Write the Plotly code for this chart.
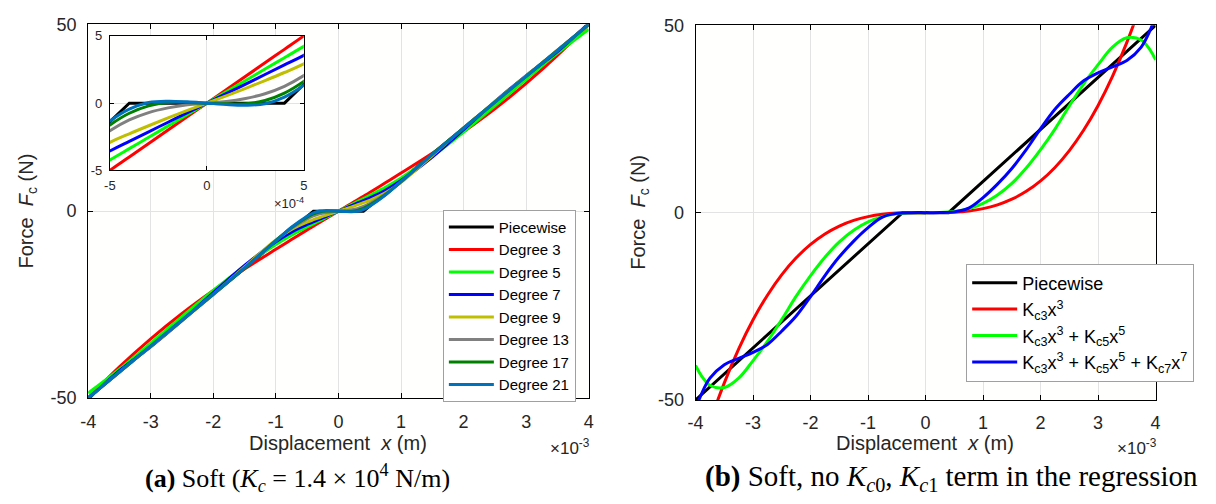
import plotly.graph_objects as go

W, H = 1216, 504

# ---------------- data (x in units of 1e-3 m, force in N) ----------------
XL = [-4, -3.5, -3, -2.5, -2, -1.5, -1, -0.75, -0.5, -0.4, -0.3, -0.2, -0.1, 0,
      0.1, 0.2, 0.3, 0.4, 0.5, 0.75, 1, 1.5, 2, 2.5, 3, 3.5, 4]

PIECE_X = [-4, -0.4, 0.4, 4]
PIECE_F = [-50, 0, 0, 50]

DEG3 = [-50, -41.7, -34.2, -27.4, -21.25, -15.5, -10.2, -7.6, -5.0, -4.0, -3.0, -2.0, -1.0, 0,
        1.0, 2.0, 3.0, 4.0, 5.0, 7.6, 10.2, 15.5, 21.25, 27.4, 34.2, 41.7, 50]
DEG5 = [-48.7, -42.3, -35.3, -28.2, -21.2, -14.7, -8.9, -6.4, -4.23, -3.38, -2.54, -1.69, -0.85, 0,
        0.85, 1.69, 2.54, 3.38, 4.23, 6.4, 8.9, 14.7, 21.2, 28.2, 35.3, 42.3, 48.7]
DEG7 = [-50.3, -42.7, -36.3, -29.3, -21.8, -14.5, -8.2, -5.6, -3.56, -2.84, -2.13, -1.42, -0.71, 0,
        0.71, 1.42, 2.13, 2.84, 3.56, 5.6, 8.2, 14.5, 21.8, 29.3, 36.3, 42.7, 50.3]
DEG9 = [-49.8, -43.1, -36.2, -29.3, -22.3, -14.9, -7.7, -4.9, -2.92, -2.28, -1.68, -1.1, -0.54, 0,
        0.54, 1.1, 1.68, 2.28, 2.92, 4.9, 7.7, 14.9, 22.3, 29.3, 36.2, 43.1, 49.8]
DEG13 = [-50, -43.1, -36.1, -29.1, -22.3, -15.2, -7.8, -4.6, -2.05, -1.25, -0.7, -0.35, -0.12, 0,
         0.12, 0.35, 0.7, 1.25, 2.05, 4.6, 7.8, 15.2, 22.3, 29.1, 36.1, 43.1, 50]
DEG17 = [-50, -43.0, -36.1, -29.2, -22.2, -15.3, -7.9, -4.4, -1.62, -0.75, -0.2, 0.05, 0.05, 0,
         -0.05, -0.05, 0.2, 0.75, 1.62, 4.4, 7.9, 15.3, 22.2, 29.2, 36.1, 43.0, 50]
DEG21 = [-50, -43.0, -36.1, -29.2, -22.2, -15.2, -8.0, -4.3, -1.33, -0.45, 0.05, 0.15, 0.1, 0,
         -0.1, -0.15, -0.05, 0.45, 1.33, 4.3, 8.0, 15.2, 22.2, 29.2, 36.1, 43.0, 50]

XR = [-4, -3.9, -3.75, -3.5, -3.25, -3, -2.75, -2.5, -2.25, -2, -1.75, -1.5, -1.25, -1, -0.75, -0.5, -0.25, 0,
      0.25, 0.5, 0.75, 1, 1.25, 1.5, 1.75, 2, 2.25, 2.5, 2.75, 3, 3.25, 3.5, 3.75, 3.9, 4]

K3 = [-67.8, -62.9, -55.9, -45.45, -36.39, -28.62, -22.05, -16.56, -12.07, -8.48, -5.68, -3.58, -2.07, -1.06, -0.45, -0.13, -0.02, 0,
      0.02, 0.13, 0.45, 1.06, 2.07, 3.58, 5.68, 8.48, 12.07, 16.56, 22.05, 28.62, 36.39, 45.45, 55.9, 62.9, 67.8]
K35 = [-40.8, -43.5, -46.1, -46.7, -44.2, -39.5, -34.4, -28.5, -22.3, -16.8, -11.9, -7.8, -4.7, -2.45, -1.06, -0.32, -0.04, 0,
       0.04, 0.32, 1.06, 2.45, 4.7, 7.8, 11.9, 16.8, 22.3, 28.5, 34.4, 39.5, 44.2, 46.7, 46.1, 43.5, 40.8]
K357 = [-52.5, -48.5, -44.2, -40.6, -38.9, -37.3, -35.2, -31.6, -27.6, -22.4, -16.8, -11.8, -7.6, -4.0, -1.2, -0.2, -0.01, 0,
        0.01, 0.2, 1.2, 4.0, 7.6, 11.8, 16.8, 22.4, 27.6, 31.6, 35.2, 37.3, 38.9, 40.6, 44.2, 48.5, 52.5]

X_TICKS = [-4, -3, -2, -1, 0, 1, 2, 3, 4]
X_TICK_TEXT = ["-4", "-3", "-2", "-1", "0", "1", "2", "3", "4"]
Y_TICKS = [-50, 0, 50]
Y_TICK_TEXT = ["-50", "0", "50"]
INSET_X_TICKS = [-0.5, 0, 0.5]
INSET_X_TEXT = ["-5", "0", "5"]
INSET_Y_TICKS = [-5, 0, 5]
INSET_Y_TEXT = ["-5", "0", "5"]

LEFT_SERIES = [
    ("Piecewise", PIECE_X, PIECE_F, "#000000"),
    ("Degree 3", XL, DEG3, "#ff0000"),
    ("Degree 5", XL, DEG5, "#00ff00"),
    ("Degree 7", XL, DEG7, "#0000ff"),
    ("Degree 9", XL, DEG9, "#bfbf00"),
    ("Degree 13", XL, DEG13, "#808080"),
    ("Degree 17", XL, DEG17, "#008000"),
    ("Degree 21", XL, DEG21, "#0072bd"),
]
RIGHT_SERIES = [
    ("Piecewise", PIECE_X, PIECE_F, "#000000"),
    ("K<sub>c3</sub>x<sup>3</sup>", XR, K3, "#ff0000"),
    ("K<sub>c3</sub>x<sup>3</sup> + K<sub>c5</sub>x<sup>5</sup>", XR, K35, "#00ff00"),
    ("K<sub>c3</sub>x<sup>3</sup> + K<sub>c5</sub>x<sup>5</sup> + K<sub>c7</sub>x<sup>7</sup>", XR, K357, "#0000ff"),
]

SANS = "Liberation Sans, Arial, sans-serif"
SERIF = "Liberation Serif, Times New Roman, serif"
TXT = "#262626"

def px(x):
    return x / W

def py(y):
    return 1 - y / H

fig = go.Figure()

for name, xs, ys, col in LEFT_SERIES:
    shp = "linear" if name == "Piecewise" else "spline"
    fig.add_trace(go.Scatter(x=xs, y=ys, mode="lines", name=name,
                             line=dict(color=col, width=3, shape=shp),
                             xaxis="x", yaxis="y", legend="legend"))
for name, xs, ys, col in LEFT_SERIES:
    shp = "linear" if name == "Piecewise" else "spline"
    fig.add_trace(go.Scatter(x=xs, y=ys, mode="lines", name=name, showlegend=False,
                             line=dict(color=col, width=3, shape=shp),
                             xaxis="x3", yaxis="y3"))
for name, xs, ys, col in RIGHT_SERIES:
    shp = "linear" if name == "Piecewise" else "spline"
    fig.add_trace(go.Scatter(x=xs, y=ys, mode="lines", name=name,
                             line=dict(color=col, width=3, shape=shp),
                             xaxis="x2", yaxis="y2", legend="legend2"))

def axis_style(**kw):
    d = dict(showline=True, linecolor="black", linewidth=1, mirror="ticks",
             ticks="inside", ticklen=5, tickcolor="black", showgrid=True,
             gridcolor="#e3e3e3", gridwidth=1, zeroline=False,
             tickfont=dict(family=SANS, size=18, color=TXT))
    d.update(kw)
    return d

fig.update_layout(
    width=W, height=H, margin=dict(l=0, r=0, t=0, b=0),
    paper_bgcolor="white", plot_bgcolor="#fffffe",
    xaxis=axis_style(domain=[px(81), px(587)], range=[-4, 4], tickvals=X_TICKS,
                     ticktext=X_TICK_TEXT, anchor="y", ticklabelstandoff=7),
    yaxis=axis_style(domain=[py(404), py(15)], range=[-50, 50], tickvals=Y_TICKS,
                     ticktext=Y_TICK_TEXT, anchor="x", ticklabelstandoff=7),
    xaxis2=axis_style(domain=[px(695), px(1160)], range=[-4, 4], tickvals=X_TICKS,
                      ticktext=X_TICK_TEXT, anchor="y2", ticklabelstandoff=7),
    yaxis2=axis_style(domain=[py(406), py(16)], range=[-50, 50], tickvals=Y_TICKS,
                      ticktext=Y_TICK_TEXT, anchor="x2", ticklabelstandoff=7),
    xaxis3=axis_style(domain=[px(103), px(299)], range=[-0.5, 0.5], tickvals=INSET_X_TICKS,
                      ticktext=INSET_X_TEXT, anchor="y3", ticklen=4, ticklabelstandoff=3,
                      tickfont=dict(family=SANS, size=13, color=TXT)),
    yaxis3=axis_style(domain=[py(167), py(27)], range=[-5, 5], tickvals=INSET_Y_TICKS,
                      ticktext=INSET_Y_TEXT, anchor="x3", ticklen=4, ticklabelstandoff=4,
                      tickfont=dict(family=SANS, size=13, color=TXT)),
    legend=dict(x=px(574), xanchor="right", y=py(208), yanchor="top",
                bgcolor="white", bordercolor="#a0a0a0", borderwidth=1, itemwidth=45,
                font=dict(family=SANS, size=15, color="black"), tracegroupgap=0),
    legend2=dict(x=px(1199), xanchor="right", y=py(264), yanchor="top",
                 bgcolor="white", bordercolor="#a0a0a0", borderwidth=1, itemwidth=45,
                 font=dict(family=SANS, size=18, color="black"), tracegroupgap=0),
    showlegend=True,
)

ann = []
def add_text(x, y, text, size, family=SANS, xanchor="center", angle=0, color=TXT):
    ann.append(dict(x=px(x), y=py(y), xref="paper", yref="paper", text=text,
                    showarrow=False, xanchor=xanchor, yanchor="middle",
                    textangle=angle, font=dict(family=family, size=size, color=color)))

add_text(334, 451, "Displacement  <i>x</i> (m)", 20)
add_text(927, 451, "Displacement  <i>x</i> (m)", 20)
add_text(590, 455, "\u00d710<sup>-3</sup>", 17, xanchor="right")
add_text(1163, 455, "\u00d710<sup>-3</sup>", 17, xanchor="right")
add_text(301, 201, "\u00d710<sup>-4</sup>", 13, xanchor="right")
add_text(20, 209, "Force  <i>F</i><sub>c</sub> (N)", 20, angle=-90)
add_text(638, 211, "Force  <i>F</i><sub>c</sub> (N)", 20, angle=-90)
add_text(293, 487, "<b>(a)</b> Soft (<i>K<sub>c</sub></i> = 1.4 \u00d7 10<sup>4</sup> N/m)", 26,
         family=SERIF, color="black")
add_text(954, 487, "<b>(b)</b> Soft, no <i>K</i><sub><i>c</i>0</sub>, <i>K</i><sub><i>c</i>1</sub> term in the regression", 29,
         family=SERIF, color="black")
fig.update_layout(annotations=ann)

fig.write_html("out.html")
